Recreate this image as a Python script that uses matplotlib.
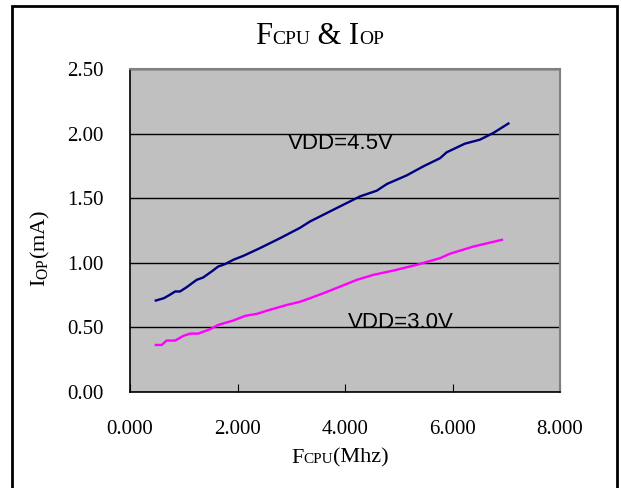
import matplotlib.pyplot as plt
from matplotlib.patches import Rectangle
from matplotlib.offsetbox import TextArea, HPacker, AnnotationBbox

plt.rcParams['mathtext.fontset'] = 'custom'
plt.rcParams['mathtext.rm'] = 'Liberation Serif'

# VDD = 4.5V
f_45 = [0.48, 0.63, 0.74, 0.84, 0.93, 1.05, 1.24, 1.36, 1.52, 1.64, 1.77, 1.92,
        2.11, 2.42, 2.79, 3.16, 3.35, 3.78, 4.28, 4.59, 4.78, 5.15, 5.46, 5.77,
        5.89, 6.23, 6.51, 6.76, 7.04]
i_45 = [0.708, 0.726, 0.752, 0.778, 0.778, 0.81, 0.868, 0.886, 0.933, 0.971, 0.99, 1.023,
        1.054, 1.114, 1.19, 1.27, 1.32, 1.41, 1.514, 1.558, 1.61, 1.677, 1.747, 1.81,
        1.855, 1.922, 1.953, 2.005, 2.078]

# VDD = 3.0V
f_30 = [0.48, 0.59, 0.68, 0.84, 0.99, 1.12, 1.27, 1.49, 1.64, 1.92, 2.14, 2.36,
        2.60, 2.92, 3.16, 3.35, 3.60, 3.91, 4.22, 4.53, 4.90, 5.33, 5.77, 5.95,
        6.39, 6.92]
i_30 = [0.364, 0.364, 0.398, 0.398, 0.434, 0.452, 0.452, 0.486, 0.519, 0.553, 0.589, 0.605,
        0.636, 0.674, 0.698, 0.726, 0.765, 0.816, 0.868, 0.907, 0.94, 0.984, 1.036, 1.07,
        1.126, 1.178]

x_ticks = [0, 2, 4, 6, 8]
y_ticks = [0, 0.5, 1.0, 1.5, 2.0, 2.5]

serif = 'Liberation Serif'

fig = plt.figure(figsize=(6.22, 4.88), dpi=100)
ax = fig.add_axes([130 / 622, 96 / 488, 430 / 622, 323 / 488])

# outer frame
fig.patches.append(Rectangle((12 / 622, -0.1), 605 / 622, 1.1 - 6 / 488,
                             transform=fig.transFigure, fill=False,
                             edgecolor='black', linewidth=2))

ax.set_facecolor('#C0C0C0')
ax.plot(f_45, i_45, color='#000080', linewidth=1.7)
ax.plot(f_30, i_30, color='#FF00FF', linewidth=1.7)

ax.set_xlim(0, 8)
ax.set_ylim(0, 2.5)
ax.set_xticks(x_ticks)
ax.set_yticks(y_ticks)
ax.set_xticklabels([f'{v:.3f}' for v in x_ticks], fontfamily=serif, fontsize=15)
ax.set_yticklabels([f'{v:.2f}' for v in y_ticks], fontfamily=serif, fontsize=15)
ax.tick_params(axis='x', direction='in', length=6, pad=20)
ax.tick_params(axis='y', direction='in', length=0, pad=19)
ax.yaxis.grid(True, color='black', linewidth=1)
ax.set_axisbelow(True)

for s in ['left', 'bottom']:
    ax.spines[s].set_color('black')
    ax.spines[s].set_linewidth(1.2)
for s in ['top', 'right']:
    ax.spines[s].set_color('#808080')
    ax.spines[s].set_linewidth(1.5)

ax.text(2.94, 1.92, 'VDD=4.5V', fontfamily='Liberation Sans', fontsize=16, va='center')
ax.text(4.06, 0.535, 'VDD=3.0V', fontfamily='Liberation Sans', fontsize=16, va='center')


def rich_label(parts, xy):
    boxes = [TextArea(t, textprops=dict(fontfamily=serif, fontsize=sz)) for t, sz in parts]
    pack = HPacker(children=boxes, align='baseline', pad=0, sep=0)
    ab = AnnotationBbox(pack, xy, xycoords='figure pixels', frameon=False,
                        box_alignment=(0.5, 0.5))
    fig.add_artist(ab)


rich_label([('F', 22), ('CPU', 14), (' & I', 22), ('OP', 14)], (320, 488 - 37))
rich_label([('F', 16), ('CPU', 11), ('(Mhz)', 16)], (340, 488 - 458))

fig.text(40 / 622, 1 - 248 / 488, r'I$_{\mathrm{OP}}$(mA)', rotation=90,
         fontfamily=serif, fontsize=16, ha='center', va='center')

fig.savefig('out.png', dpi=100)
